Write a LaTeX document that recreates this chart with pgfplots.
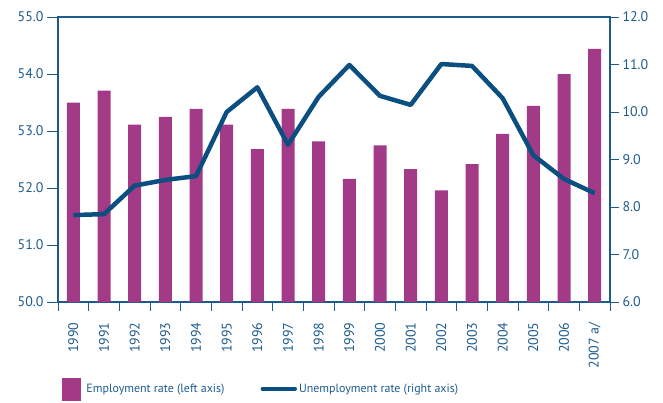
\documentclass[border=0pt]{standalone}
\usepackage{pgfplots}
\pgfplotsset{compat=1.18}
\usepackage{fontspec}
\setmainfont{PT Sans}

\definecolor{emp}{HTML}{A33A87}
\definecolor{unemp}{HTML}{0B4F80}
\definecolor{axc}{HTML}{1E5B8D}

\pgfplotsset{
  base/.style={
    scale only axis, width=552bp, height=285bp,
    xmin=-0.5, xmax=17.5,
    axis line style={axc, line width=1.1bp},
    every tick/.style={axc, line width=1bp},
    tick align=outside,
    major tick length=9bp, minor tick length=9bp,
    tick label style={font=\fontsize{14}{14}\selectfont, color=axc},
    /pgf/number format/.cd, fixed, fixed zerofill, precision=1, assume math mode=true,
  },
}

\begin{document}
\begin{tikzpicture}
\begin{axis}[base, name=ax1,
    ymin=50, ymax=55, ytick={50,51,...,55},
    tick pos=left,
    xtick={0,...,17},
    xticklabels={1990,1991,1992,1993,1994,1995,1996,1997,1998,1999,2000,2001,2002,2003,2004,2005,2006,2007 a/},
    xticklabel style={rotate=90, anchor=east},
    xticklabel shift=6bp,
    major x tick style={draw=none},
    major tick length=11bp,
    minor xtick={-0.5,0.5,...,17.5},
  ]
  \addplot[ybar, bar width=13bp, fill=emp, draw=none] coordinates {
    (0,53.50) (1,53.71) (2,53.11) (3,53.25) (4,53.39) (5,53.11)
    (6,52.68) (7,53.39) (8,52.82) (9,52.16) (10,52.75) (11,52.33)
    (12,51.96) (13,52.42) (14,52.95) (15,53.44) (16,54.00) (17,54.44)};
\end{axis}
\begin{axis}[base,
    ymin=6, ymax=12, ytick={6,7,...,12},
    axis x line=none, axis y line*=right,
    legend columns=2,
    legend cell align=left,
    legend style={draw=none, fill=none, inner sep=0pt,
      at={(0.007,-0.305)}, anchor=west,
      font=\fontsize{12}{12}\selectfont, text=axc,
      /tikz/every even column/.append style={column sep=34bp}},
  ]
  \addlegendimage{legend image code/.code={\fill[emp] (0bp,-11bp) rectangle (18bp,11bp); \path (22bp,0bp);}}
  \addlegendentry{Employment rate (left axis)}
  \addplot[unemp, line width=4.5bp, line join=round,
    legend image code/.code={\draw[unemp, line width=4.5bp, line cap=round] (0bp,0bp) -- (32bp,0bp); \path (32bp,0bp);}]
    coordinates {
    (0,7.83) (1,7.85) (2,8.45) (3,8.57) (4,8.65) (5,10.00)
    (6,10.52) (7,9.31) (8,10.32) (9,10.99) (10,10.34) (11,10.15)
    (12,11.01) (13,10.97) (14,10.29) (15,9.09) (16,8.59) (17,8.29)};
  \addlegendentry{Unemployment rate (right axis)}
\end{axis}
\pgfresetboundingbox
\path[use as bounding box] ([xshift=-58bp,yshift=-101bp]ax1.south west) rectangle ([xshift=53bp,yshift=17bp]ax1.north east);
\end{tikzpicture}
\end{document}
